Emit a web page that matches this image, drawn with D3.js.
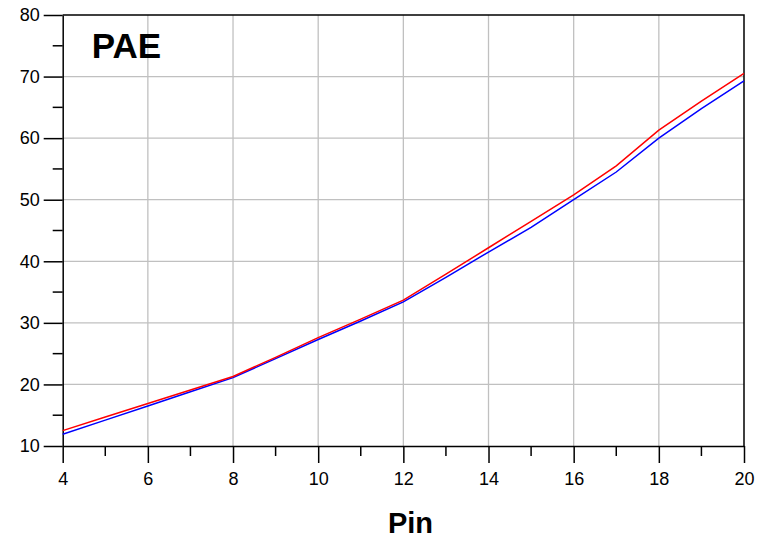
<!DOCTYPE html>
<html>
<head>
<meta charset="utf-8">
<script src="https://cdn.jsdelivr.net/npm/d3@7"></script>
<style>
  body { margin: 0; background: #fff; }
  text { font-family: "Liberation Sans", Arial, sans-serif; fill: #000; }
</style>
</head>
<body>
<svg id="chart" width="769" height="538"></svg>
<script>
// Pin values (x axis)
var pin = [4, 5, 6, 7, 8, 9, 10, 11, 12, 13, 14, 15, 16, 17, 18, 19, 20];
// PAE traces
var paeRed  = [12.5, 14.7, 16.9, 19.1, 21.3, 24.4, 27.6, 30.6, 33.7, 37.9, 42.2, 46.5, 50.8, 55.5, 61.3, 66.0, 70.5];
var paeBlue = [11.9, 14.2, 16.5, 18.8, 21.1, 24.2, 27.3, 30.3, 33.4, 37.4, 41.5, 45.5, 50.0, 54.5, 60.0, 64.8, 69.3];
var xTicks = [4, 6, 8, 10, 12, 14, 16, 18, 20];
var yTicks = [10, 20, 30, 40, 50, 60, 70, 80];

function init() {
  var margin = { top: 15, right: 25, bottom: 92, left: 62.7 };
  var width = 769 - margin.left - margin.right;
  var height = 538 - margin.top - margin.bottom;

  var svg = d3.select("#chart")
    .append("g")
    .attr("transform", "translate(" + margin.left + "," + margin.top + ")");

  var x = d3.scaleLinear().domain([4, 20]).range([0, width]);
  var y = d3.scaleLinear().domain([10, 80]).range([height, 0]);

  // grid
  svg.append("g")
    .selectAll("line")
    .data(xTicks.slice(1, -1))
    .enter()
    .append("line")
    .attr("x1", function(d) { return x(d); })
    .attr("x2", function(d) { return x(d); })
    .attr("y1", 0)
    .attr("y2", height)
    .attr("stroke", "#c0c0c0")
    .attr("stroke-width", 1.3);

  svg.append("g")
    .selectAll("line")
    .data(yTicks.slice(1, -1))
    .enter()
    .append("line")
    .attr("x1", 0)
    .attr("x2", width)
    .attr("y1", function(d) { return y(d); })
    .attr("y2", function(d) { return y(d); })
    .attr("stroke", "#c0c0c0")
    .attr("stroke-width", 1.3);

  // minor ticks
  var xMinor = d3.range(5, 20, 2);
  var yMinor = d3.range(15, 80, 10);

  svg.append("g")
    .selectAll("line")
    .data(xMinor)
    .enter()
    .append("line")
    .attr("x1", function(d) { return x(d); })
    .attr("x2", function(d) { return x(d); })
    .attr("y1", height)
    .attr("y2", height + 10)
    .attr("stroke", "#000")
    .attr("stroke-width", 1.5);

  svg.append("g")
    .selectAll("line")
    .data(yMinor)
    .enter()
    .append("line")
    .attr("x1", -10)
    .attr("x2", 0)
    .attr("y1", function(d) { return y(d); })
    .attr("y2", function(d) { return y(d); })
    .attr("stroke", "#000")
    .attr("stroke-width", 1.5);

  // axes
  var xAxis = svg.append("g")
    .attr("transform", "translate(0," + height + ")")
    .call(d3.axisBottom(x).tickValues(xTicks).tickSize(17).tickPadding(9).tickSizeOuter(0));

  var yAxis = svg.append("g")
    .call(d3.axisLeft(y).tickValues(yTicks).tickSize(19).tickPadding(4).tickSizeOuter(0));

  [xAxis, yAxis].forEach(function(a) {
    a.selectAll("path, line").attr("stroke", "#000").attr("stroke-width", 1.5);
    a.selectAll("text")
      .style("font-family", '"Liberation Sans", Arial, sans-serif')
      .style("font-size", "18px")
      .attr("fill", "#000");
  });

  // top and right border
  svg.append("path")
    .attr("d", "M0,0H" + width + "V" + height)
    .attr("fill", "none")
    .attr("stroke", "#000")
    .attr("stroke-width", 1.5);

  // lines
  var line = d3.line()
    .x(function(d, i) { return x(pin[i]); })
    .y(function(d) { return y(d); });

  svg.append("path")
    .datum(paeBlue)
    .attr("d", line)
    .attr("fill", "none")
    .attr("stroke", "#0000ff")
    .attr("stroke-width", 1.5);

  svg.append("path")
    .datum(paeRed)
    .attr("d", line)
    .attr("fill", "none")
    .attr("stroke", "#ff0000")
    .attr("stroke-width", 1.5);

  // titles
  svg.append("text")
    .attr("x", 29)
    .attr("y", 43)
    .style("font-size", "35px")
    .style("font-weight", "bold")
    .text("PAE");

  svg.append("text")
    .attr("x", 410.5 - margin.left)
    .attr("y", 533 - margin.top)
    .attr("text-anchor", "middle")
    .style("font-size", "29px")
    .style("font-weight", "bold")
    .text("Pin");
}

window.onload = init;
</script>
</body>
</html>
